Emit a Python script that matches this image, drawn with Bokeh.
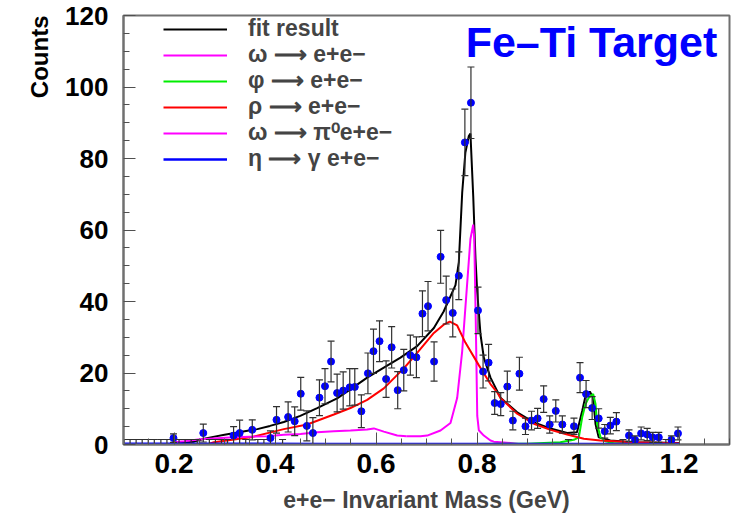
from bokeh.plotting import figure
from bokeh.models import (ColumnDataSource, Whisker, TeeHead, Label, Legend, LegendItem,
                          FixedTicker, CustomJSTickFormatter, Range1d, Title)
from bokeh.embed import file_html
from bokeh.resources import INLINE

# ---------------- data ----------------
mass = [0.199, 0.258, 0.318, 0.330, 0.355, 0.391, 0.403, 0.426, 0.439, 0.451,
        0.463, 0.475, 0.488, 0.499, 0.511, 0.523, 0.535, 0.548, 0.558, 0.571,
        0.584, 0.595, 0.607, 0.620, 0.631, 0.643, 0.655, 0.668, 0.680, 0.692,
        0.703, 0.715, 0.728, 0.739, 0.752, 0.764, 0.776, 0.788, 0.802, 0.812,
        0.823, 0.835, 0.847, 0.860, 0.871, 0.884, 0.896, 0.908, 0.920, 0.932,
        0.944, 0.956, 0.969, 0.992, 1.004, 1.016, 1.028, 1.041, 1.053, 1.064,
        1.076, 1.101, 1.113, 1.125, 1.137, 1.148, 1.160, 1.185, 1.198]
counts = [1.8, 3.2, 2.5, 3.2, 4.1, 1.8, 6.9, 7.7, 6.5, 14.2,
          5.2, 3.2, 13.1, 16.3, 23.2, 14.4, 15.1, 16.0, 16.1, 9.3,
          19.9, 26.1, 28.9, 18.3, 27.2, 15.2, 20.8, 25.0, 24.4, 36.6,
          38.7, 23.2, 52.5, 40.4, 36.8, 47.2, 84.5, 95.6, 37.5, 20.4,
          22.9, 11.6, 11.3, 16.2, 6.7, 19.8, 5.1, 6.7, 7.3, 12.7,
          5.6, 9.4, 5.6, 5.1, 18.7, 14.1, 10.2, 7.3, 3.7, 5.3,
          6.4, 2.5, 1.3, 3.1, 2.8, 2.0, 2.0, 1.3, 3.1]
errors = [1.2, 2.5, 2.5, 3.6, 2.8, 2.0, 3.7, 4.2, 4.0, 4.6,
          4.2, 4.3, 5.0, 4.9, 5.7, 5.3, 5.2, 5.2, 5.1, 4.6,
          5.7, 6.2, 5.7, 5.1, 5.8, 5.2, 5.8, 5.6, 5.7, 6.4,
          6.9, 5.5, 7.4, 6.7, 6.7, 6.7, 9.3, 10.0, 6.5, 4.6,
          5.1, 3.2, 3.2, 4.3, 2.6, 4.6, 2.3, 2.6, 2.8, 3.7,
          2.4, 3.1, 2.4, 2.3, 4.2, 3.8, 3.2, 2.7, 1.9, 2.3,
          2.5, 1.6, 1.1, 1.8, 1.7, 1.4, 1.4, 1.1, 1.8]

# bins with no entries (error bar only)
empty_mass = [0.101, 0.113, 0.125, 0.137, 0.149, 0.161, 0.174, 0.186, 0.210, 0.222,
              0.234, 0.246, 0.270, 0.282, 0.294, 0.306, 0.342, 0.366, 0.378, 0.415,
              0.981, 1.089, 1.174]
empty_err = [1.4] * len(empty_mass)

fit_x = [0.20, 0.24, 0.26, 0.28, 0.30, 0.32, 0.34, 0.365, 0.39, 0.4175,
         0.45, 0.4835, 0.523, 0.55, 0.5825, 0.6155, 0.6485, 0.6815, 0.7146, 0.734,
         0.7574, 0.764, 0.7707, 0.777, 0.7838, 0.787, 0.7925, 0.797, 0.8004, 0.807,
         0.8135, 0.8267, 0.8465, 0.8796, 0.9125, 0.9455, 0.9786, 0.998, 1.0083, 1.0149,
         1.0234, 1.030, 1.0347, 1.041, 1.064, 1.11, 1.20]
fit_y = [0.3, 0.8, 1.6, 2.2, 2.7, 3.2, 3.7, 4.3, 5.2, 6.3,
         8.0, 10.2, 12.9, 15.5, 18.7, 21.5, 24.3, 27.5, 32.6, 37.2,
         44.6, 51.0, 70.5, 81.7, 86.3, 87.0, 69.6, 52.0, 42.8, 30.7,
         24.3, 18.7, 13.1, 9.0, 6.2, 4.5, 3.2, 3.4, 9.4, 13.6,
         14.8, 13.1, 5.7, 2.0, 1.1, 0.65, 0.4]

rho_x = [0.27, 0.279, 0.3515, 0.4175, 0.4637, 0.5165, 0.5495, 0.5825, 0.6155, 0.655,
         0.6815, 0.7146, 0.734, 0.7462, 0.7607, 0.777, 0.8035, 0.8267, 0.840, 0.8465,
         0.8796, 0.9125, 0.9455, 0.9786, 1.0115, 1.044, 1.11, 1.20]
rho_y = [0.2, 0.65, 2.0, 4.3, 5.6, 8.4, 10.2, 12.5, 15.7, 21.3,
         25.6, 31.2, 33.5, 34.4, 33.3, 28.5, 22.2, 16.9, 14.6, 13.0,
         8.6, 5.8, 4.1, 2.8, 1.6, 1.1, 0.6, 0.35]

omega_x = [0.66, 0.688, 0.7014, 0.7277, 0.7475, 0.7607, 0.7706, 0.7805, 0.787, 0.7925,
           0.7945, 0.7975, 0.8005, 0.8036, 0.8135, 0.8267, 0.8333, 0.866, 0.886]
omega_y = [2.3, 2.3, 2.5, 3.9, 6.0, 13.0, 26.0, 45.0, 57.5, 61.5,
           58.0, 35.0, 8.0, 4.0, 2.5, 1.1, 0.8, 0.4, 0.05]

dalitz_x = [0.20, 0.2195, 0.2525, 0.2855, 0.3185, 0.3515, 0.3845, 0.4175, 0.4505, 0.4835,
            0.5165, 0.5495, 0.5825, 0.5957, 0.6155, 0.642, 0.66]
dalitz_y = [0.6, 0.9, 1.5, 1.75, 2.0, 2.2, 2.3, 2.7, 2.96, 3.4,
            3.7, 3.9, 4.2, 4.5, 3.6, 2.5, 2.3]

phi_x = [0.72, 0.90, 0.965, 0.9917, 1.0016, 1.0083, 1.0149, 1.0214, 1.030, 1.0347,
         1.038, 1.0446, 1.054, 1.07, 1.10, 1.20]
phi_y = [0.1, 0.2, 0.6, 1.3, 2.0, 7.6, 11.3, 13.1, 14.1, 11.3,
         5.7, 2.0, 0.9, 0.4, 0.2, 0.1]

eta_x = [0.10, 0.30, 0.50, 0.55, 0.80, 1.20]
eta_y = [0.2, 0.2, 0.15, 0.12, 0.12, 0.12]

legend_labels = ["fit result",
                 "\u03c9 \u27f6 e+e\u2212",
                 "\u03c6 \u27f6 e+e\u2212",
                 "\u03c1 \u27f6 e+e\u2212",
                 "\u03c9 \u27f6 \u03c0\u2070e+e\u2212",
                 "\u03b7 \u27f6 \u03b3 e+e\u2212"]

x_major = [0.2, 0.4, 0.6, 0.8, 1.0, 1.2]
x_minor = [0.1, 0.15, 0.25, 0.3, 0.35, 0.45, 0.5, 0.55, 0.65, 0.7, 0.75,
           0.85, 0.9, 0.95, 1.05, 1.1, 1.15, 1.25, 1.3]
y_major = [0, 20, 40, 60, 80, 100, 120]
y_minor = [5, 10, 15, 25, 30, 35, 45, 50, 55, 65, 70, 75, 85, 90, 95, 105, 110, 115]

FONT = "Liberation Sans"
GRAY = "#707070"

p = figure(width=731, height=519, x_range=Range1d(0.1, 1.3), y_range=Range1d(0, 120),
           output_backend="svg", toolbar_location=None,
           min_border_left=123, min_border_right=2, min_border_top=15, min_border_bottom=75)
p.xgrid.visible = False
p.ygrid.visible = False
p.outline_line_color = GRAY
p.outline_line_width = 2
p.background_fill_color = "white"
p.border_fill_color = "white"

for ax in (p.xaxis[0], p.yaxis[0]):
    ax.axis_line_color = GRAY
    ax.axis_line_width = 2
    ax.major_tick_line_color = "#505050"
    ax.minor_tick_line_color = "#505050"
    ax.major_tick_in = 12
    ax.major_tick_out = 0
    ax.minor_tick_in = 6
    ax.minor_tick_out = 0
    ax.major_label_text_font = FONT
    ax.major_label_text_font_style = "bold"
    ax.major_label_text_color = "black"
p.xaxis.major_label_text_font_size = "28px"
p.yaxis.major_label_text_font_size = "26px"

p.xaxis.ticker = FixedTicker(ticks=x_major, minor_ticks=x_minor)
p.yaxis.ticker = FixedTicker(ticks=y_major, minor_ticks=y_minor)
p.xaxis.formatter = CustomJSTickFormatter(code="return String(Number(tick.toFixed(2)));")
p.xaxis.major_label_standoff = 9
p.yaxis.major_label_standoff = 15
p.xaxis.axis_label = "e+e\u2212 Invariant Mass (GeV)"
p.xaxis.axis_label_text_font = FONT
p.xaxis.axis_label_text_font_style = "bold"
p.xaxis.axis_label_text_font_size = "23px"
p.xaxis.axis_label_standoff = 11

p.add_layout(Title(text="Counts", align="right", text_font=FONT, text_font_style="bold",
                   text_font_size="24px", text_color="black", standoff=20), "left")

# curves
r_fit = p.line(fit_x, fit_y, line_color="black", line_width=2)
r_omega = p.line(omega_x, omega_y, line_color="#ff00ff", line_width=2)
r_phi = p.line(phi_x, phi_y, line_color="#00ee00", line_width=2)
r_rho = p.line(rho_x, rho_y, line_color="#ff0000", line_width=2)
r_dal = p.line(dalitz_x, dalitz_y, line_color="#ff00ff", line_width=2)
r_eta = p.line(eta_x, eta_y, line_color="#0000ff", line_width=2.5)

# error bars
src = ColumnDataSource(dict(x=mass, y=counts,
                            lo=[c - e for c, e in zip(counts, errors)],
                            hi=[c + e for c, e in zip(counts, errors)]))
src0 = ColumnDataSource(dict(x=empty_mass, lo=[0.0] * len(empty_mass), hi=empty_err))
for s in (src, src0):
    w = Whisker(base="x", lower="lo", upper="hi", source=s, dimension="height",
                line_color="#303030", line_width=1.2,
                upper_head=TeeHead(size=7, line_color="#303030", line_width=1.2),
                lower_head=TeeHead(size=7, line_color="#303030", line_width=1.2))
    w.level = "glyph"
    p.add_layout(w)

p.scatter("x", "y", source=src, size=7, fill_color="#0000ff", line_color="#0000ff")

# legend: one single-row legend per entry, rows 26 px apart
row_centers = [29, 55, 81, 107, 133, 159]   # px below the top of the page
for lab, r, c in zip(legend_labels, [r_fit, r_omega, r_phi, r_rho, r_dal, r_eta], row_centers):
    lg = Legend(items=[LegendItem(label=lab, renderers=[r])], location=(40, 444 - c - 13))
    lg.background_fill_alpha = 0
    lg.border_line_color = None
    lg.label_text_font = FONT
    lg.label_text_font_style = "bold"
    lg.label_text_font_size = "23px"
    lg.glyph_width = 64
    lg.glyph_height = 20
    lg.label_height = 20
    lg.padding = 0
    lg.margin = 0
    lg.label_standoff = 21
    p.add_layout(lg)

p.add_layout(Label(x=1.0267, y=112.5, text="Fe\u2013Ti Target", text_align="center",
                   text_baseline="alphabetic", text_color="#0000ff", text_font=FONT,
                   text_font_style="bold", text_font_size="43px"))

open("out.html", "w").write(file_html(p, INLINE))
